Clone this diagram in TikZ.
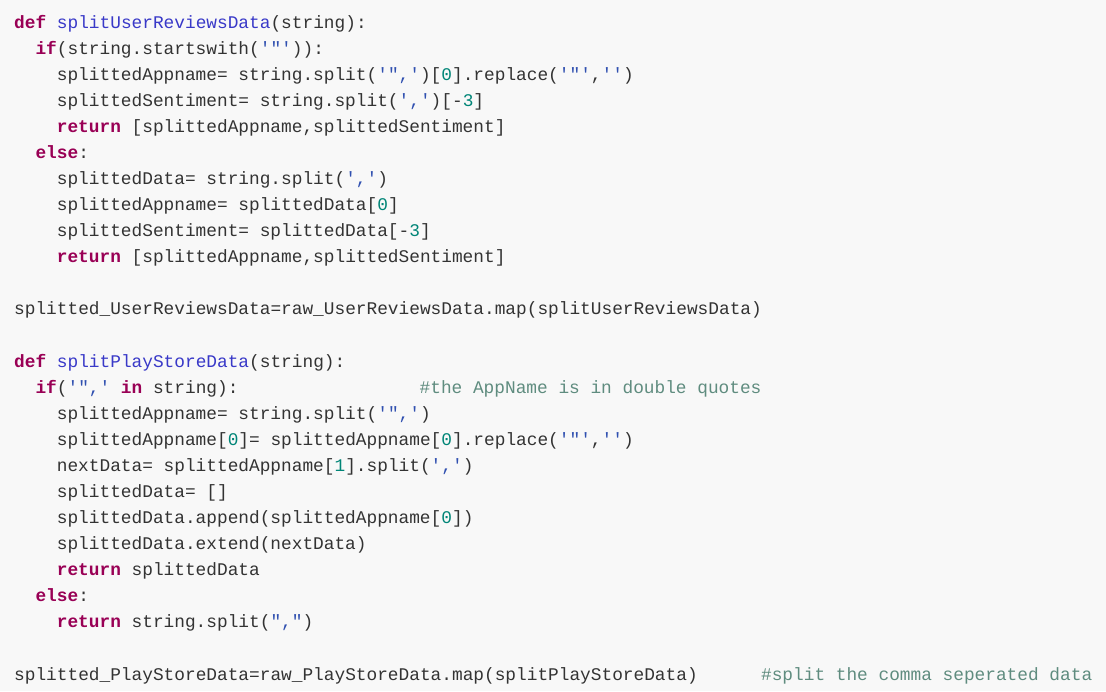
\documentclass[tikz,border=0pt]{standalone}
\usepackage{fontspec}
\setmonofont{Liberation Mono}
\definecolor{bgc}{HTML}{F8F8F8}
\definecolor{txt}{HTML}{333333}
\definecolor{kw}{HTML}{990055}
\definecolor{fn}{HTML}{3939C8}
\definecolor{st}{HTML}{3050B0}
\definecolor{nm}{HTML}{008577}
\definecolor{cm}{HTML}{5F8C7F}
\newcommand{\K}[1]{\textcolor{kw}{\bfseries #1}}
\newcommand{\F}[1]{\textcolor{fn}{#1}}
\newcommand{\Sq}[1]{\textcolor{st}{#1}}
\newcommand{\N}[1]{\textcolor{nm}{#1}}
\newcommand{\Cm}[1]{\textcolor{cm}{#1}}
\begin{document}
\begin{tikzpicture}[x=1pt,y=-1pt,
  ln/.style={anchor=base west,inner sep=0pt,font=\ttfamily\fontsize{17.8}{20}\selectfont,text=txt}]
\fill[bgc] (0,0) rectangle (1106,691);
\useasboundingbox (0,0) rectangle (1106,691);
\def\cw{10.67}
\def\lh{26.08}
\newcommand{\Ln}[4]{\node[ln] (#1) at ({14+#2*\cw},{28+(#3-1)*\lh}) {#4};}
\Ln{l1}{0}{1}{\K{def} \F{splitUserReviewsData}(string):}
\Ln{l2}{2}{2}{\K{if}(string.startswith(\Sq{'"'})):}
\Ln{l3}{4}{3}{splittedAppname= string.split(\Sq{'",'})[\N{0}].replace(\Sq{'"'},\Sq{''})}
\Ln{l4}{4}{4}{splittedSentiment= string.split(\Sq{','})[-\N{3}]}
\Ln{l5}{4}{5}{\K{return} [splittedAppname,splittedSentiment]}
\Ln{l6}{2}{6}{\K{else}:}
\Ln{l7}{4}{7}{splittedData= string.split(\Sq{','})}
\Ln{l8}{4}{8}{splittedAppname= splittedData[\N{0}]}
\Ln{l9}{4}{9}{splittedSentiment= splittedData[-\N{3}]}
\Ln{l10}{4}{10}{\K{return} [splittedAppname,splittedSentiment]}
\Ln{l12}{0}{12}{splitted\_UserReviewsData=raw\_UserReviewsData.map(splitUserReviewsData)}
\Ln{l14}{0}{14}{\K{def} \F{splitPlayStoreData}(string):}
\Ln{l15}{2}{15}{\K{if}(\Sq{'",'} \K{in} string):}
\Ln{c15}{38}{15}{\Cm{\#the AppName is in double quotes}}
\Ln{l16}{4}{16}{splittedAppname= string.split(\Sq{'",'})}
\Ln{l17}{4}{17}{splittedAppname[\N{0}]= splittedAppname[\N{0}].replace(\Sq{'"'},\Sq{''})}
\Ln{l18}{4}{18}{nextData= splittedAppname[\N{1}].split(\Sq{','})}
\Ln{l19}{4}{19}{splittedData= []}
\Ln{l20}{4}{20}{splittedData.append(splittedAppname[\N{0}])}
\Ln{l21}{4}{21}{splittedData.extend(nextData)}
\Ln{l22}{4}{22}{\K{return} splittedData}
\Ln{l23}{2}{23}{\K{else}:}
\Ln{l24}{4}{24}{\K{return} string.split(\Sq{","})}
\Ln{l26}{0}{26}{splitted\_PlayStoreData=raw\_PlayStoreData.map(splitPlayStoreData)}
\Ln{c26}{70}{26}{\Cm{\#split the comma seperated data}}
\end{tikzpicture}
\end{document}
